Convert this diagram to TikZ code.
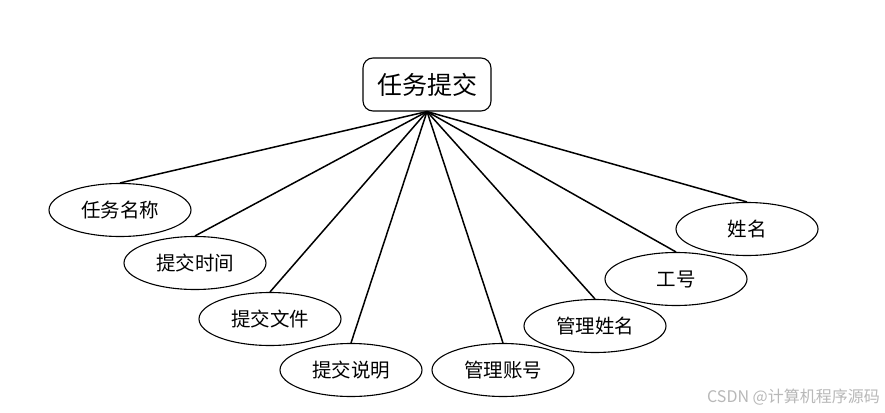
\documentclass[tikz,border=0pt]{standalone}
\usepackage{fontspec}
\newfontfamily\cjk{Noto Sans CJK SC}
\usetikzlibrary{shapes.geometric}
\tikzset{
  attr/.style={ellipse, draw, line width=1.1pt, minimum width=142pt, minimum height=53pt, inner sep=0pt, font=\cjk\fontsize{19.5}{19.5}\selectfont},
  entity/.style={rectangle, rounded corners=10pt, draw, line width=1.1pt, minimum width=128pt, minimum height=53pt, inner sep=0pt, font=\cjk\fontsize{25}{25}\selectfont},
  link/.style={line width=1.5pt},
}
\begin{document}
\begin{tikzpicture}[x=1pt,y=-1pt]
\useasboundingbox[fill=white] (0,0) rectangle (885,412);
\node[entity] (e) at (427,84.5) {任务提交};
\node[attr] (a1) at (120,210) {任务名称};
\node[attr] (a2) at (195,263) {提交时间};
\node[attr] (a3) at (270,319) {提交文件};
\node[attr] (a4) at (351,370) {提交说明};
\node[attr] (a5) at (503,370) {管理账号};
\node[attr] (a6) at (595,326) {管理姓名};
\node[attr] (a7) at (676,279) {工号};
\node[attr] (a8) at (747,229) {姓名};
\foreach \i in {1,...,8}{\draw[link] (e.south) -- (a\i.north);}
\node[font=\cjk\fontsize{16}{16}\selectfont, text=black!28, anchor=east, inner sep=0pt] (wm) at (880,397) {CSDN @计算机程序源码};
\end{tikzpicture}
\end{document}
